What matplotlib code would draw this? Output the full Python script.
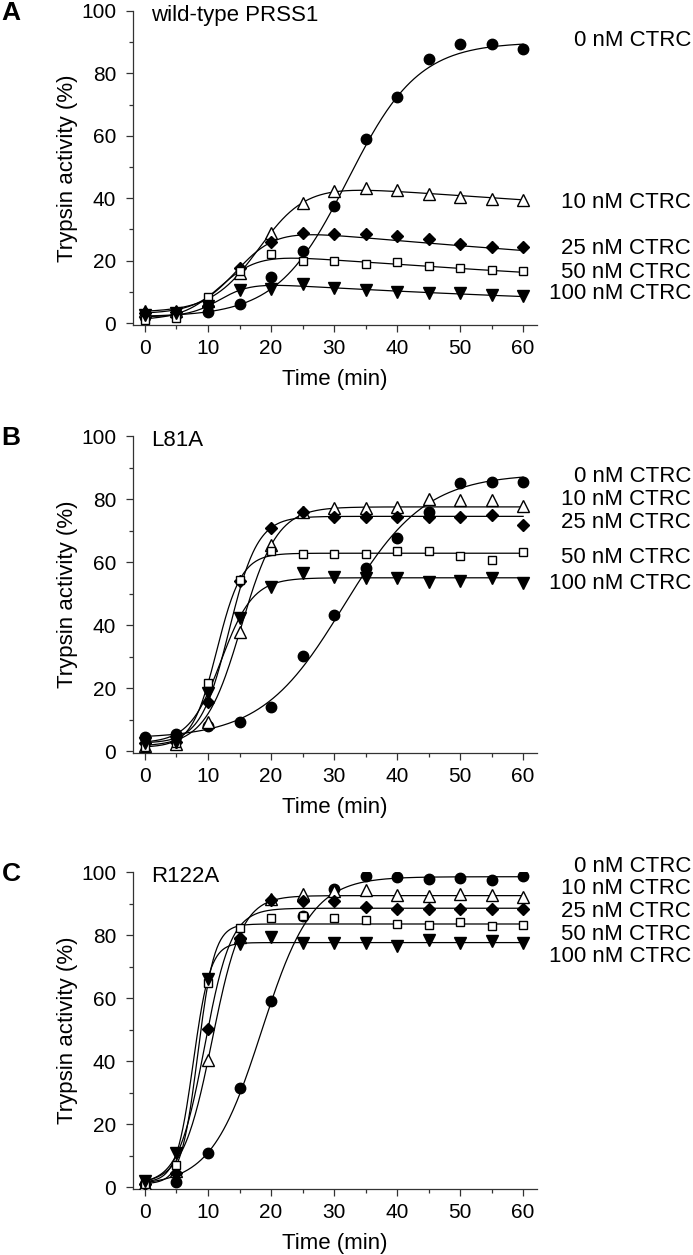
#!/usr/bin/env python3
"""
CTRC-dependent trypsin activation time courses, three PRSS1 variants
(wild-type, L81A, R122A), stacked vertically. Points = measured activity,
lines = fitted curves (logistic rise with optional slow decay).
"""

import matplotlib as mpl
import matplotlib.pyplot as plt
import numpy as np
from matplotlib.ticker import MultipleLocator

mpl.rcParams.update({
    "font.family": ["Liberation Sans", "DejaVu Sans"],
    "font.size": 16,
    "axes.linewidth": 0.9,
    "axes.edgecolor": "#333333",
    "xtick.color": "#333333",
    "ytick.color": "#333333",
    "xtick.labelcolor": "black",
    "ytick.labelcolor": "black",
})

# ---- data ----
TIME = [0, 5, 10, 15, 20, 25, 30, 35, 40, 45, 50, 55, 60]
CONC_LABELS = ["0 nM CTRC", "10 nM CTRC", "25 nM CTRC", "50 nM CTRC",
               "100 nM CTRC"]
PANEL_NAMES = ["wild-type PRSS1", "L81A", "R122A"]
PANEL_LETTERS = ["A", "B", "C"]

# wild-type PRSS1
wt_0nM   = [2.0, 2.5, 3.5, 6.0, 14.8, 23.2, 37.5, 59.0, 72.3, 84.5, 89.5, 89.3, 87.8]
wt_10nM  = [3.8, 4.0, 7.0, 15.9, 28.8, 38.6, 42.3, 43.4, 42.8, 41.4, 40.4, 39.9, 39.6]
wt_25nM  = [3.2, 3.7, 5.5, 17.7, 25.9, 28.8, 28.5, 28.6, 27.8, 27.0, 25.4, 24.3, 24.3]
wt_50nM  = [1.1, 1.7, 8.4, 16.6, 22.1, 19.8, 19.8, 19.0, 19.5, 18.3, 17.8, 17.1, 16.7]
wt_100nM = [2.5, 3.2, 5.5, 10.5, 10.8, 12.6, 11.1, 10.5, 10.0, 9.6, 9.6, 9.0, 8.8]

# L81A
l81_0nM   = [4.5, 5.4, 7.9, 9.3, 13.9, 30.3, 43.2, 58.0, 67.7, 75.8, 85.2, 85.5, 85.5]
l81_10nM  = [1.5, 2.2, 9.3, 37.7, 65.4, 76.0, 77.0, 77.0, 77.4, 80.0, 79.7, 79.7, 77.8]
l81_25nM  = [2.5, 3.0, 15.7, 54.0, 70.9, 75.8, 74.4, 74.4, 74.4, 74.4, 74.4, 74.9, 71.7]
l81_50nM  = [1.2, 2.5, 21.5, 54.3, 63.6, 62.7, 62.5, 62.5, 63.6, 63.6, 61.9, 60.8, 63.3]
l81_100nM = [2.5, 3.0, 18.5, 42.4, 52.2, 56.6, 55.3, 55.0, 55.0, 53.8, 54.0, 54.8, 53.4]

# R122A
r122_0nM   = [1.0, 1.7, 10.7, 31.6, 59.0, 86.0, 94.6, 98.8, 98.3, 97.8, 98.2, 97.5, 98.8]
r122_10nM  = [1.0, 5.0, 40.3, 79.5, 91.5, 93.0, 94.0, 94.3, 92.7, 92.4, 93.0, 92.7, 92.0]
r122_25nM  = [1.0, 4.5, 50.2, 79.0, 91.1, 90.8, 90.8, 88.8, 88.2, 88.2, 88.2, 88.2, 88.2]
r122_50nM  = [1.0, 7.0, 64.7, 82.1, 85.3, 86.1, 85.3, 84.8, 83.5, 83.2, 84.0, 82.9, 83.2]
r122_100nM = [2.0, 10.7, 66.2, 77.0, 79.5, 77.6, 77.6, 77.6, 76.5, 78.3, 77.6, 78.0, 77.6]

# fitted-curve parameters per series: (baseline, amplitude, t50, slope, decay)
wt_fits = [(2.0, 88.0, 32.2, 5.6, 0.0),
           (3.5, 45.0, 18.3, 3.76, 0.00372),
           (3.0, 31.5, 14.73, 3.15, 0.00735),
           (1.0, 24.3, 12.15, 3.01, 0.00773),
           (2.0, 13.3, 12.1, 2.44, 0.0119)]
l81_fits = [(4.0, 84.0, 31.5, 6.5, 0.0),
            (1.5, 76.0, 15.27, 2.85, 0.0),
            (2.5, 72.0, 13.37, 2.26, 0.0),
            (1.2, 61.6, 11.4, 1.97, 0.0),
            (2.5, 52.5, 12.09, 2.53, 0.0)]
r122_fits = [(0.5, 98.0, 18.5, 4.0, 0.0),
             (1.0, 91.5, 10.67, 2.35, 0.0),
             (1.0, 87.5, 9.47, 2.1, 0.0),
             (1.0, 82.5, 8.38, 1.33, 0.0),
             (1.5, 76.1, 7.66, 1.34, 0.0)]

# y position (data units) of the right-hand series labels
wt_label_y = [90.4, 38.7, 24.0, 16.3, 9.6]
l81_label_y = [87.1, 79.7, 72.5, 61.6, 53.3]
r122_label_y = [101.9, 94.8, 87.6, 80.2, 73.1]

PANELS = [
    ([wt_0nM, wt_10nM, wt_25nM, wt_50nM, wt_100nM], wt_fits, wt_label_y),
    ([l81_0nM, l81_10nM, l81_25nM, l81_50nM, l81_100nM], l81_fits, l81_label_y),
    ([r122_0nM, r122_10nM, r122_25nM, r122_50nM, r122_100nM], r122_fits, r122_label_y),
]

# marker style per concentration
STYLES = [
    dict(marker="o", ms=7.5, mfc="black", mec="black"),
    dict(marker="^", ms=8.0, mfc="white", mec="black", mew=1.0),
    dict(marker="D", ms=6.3, mfc="black", mec="black"),
    dict(marker="s", ms=6.3, mfc="white", mec="black", mew=1.0),
    dict(marker="v", ms=8.0, mfc="black", mec="black"),
]


def fit_curve(t, b, amp, t50, s, k):
    return b + amp * np.exp(-k * t) / (1.0 + np.exp(-(t - t50) / s))


def main():
    W, H = 693, 1255
    fig = plt.figure(figsize=(W / 100, H / 100), dpi=100)

    left, width = 133 / W, 404 / W
    bottoms = [325, 753, 1189]  # pixel row of x-axis
    tops = [11, 436, 872]       # pixel row of y=100

    t_fine = np.linspace(0, 60, 400)
    for p, (series, fits, label_y) in enumerate(PANELS):
        b_frac = 1 - bottoms[p] / H
        h_frac = (bottoms[p] - tops[p]) / H
        ax = fig.add_axes([left, b_frac, width, h_frac])

        for prm in fits:
            ax.plot(t_fine, fit_curve(t_fine, *prm), color="black",
                    linewidth=0.9, zorder=2)
        for i, (vals, st) in enumerate(zip(series, STYLES)):
            ax.plot(TIME, vals, linestyle="none", zorder=3 + i, **st)

        ax.set_xlim(-1.9, 62.2)
        ax.set_ylim(-0.6, 100)
        ax.xaxis.set_major_locator(MultipleLocator(10))
        ax.xaxis.set_minor_locator(MultipleLocator(5))
        ax.yaxis.set_major_locator(MultipleLocator(20))
        ax.yaxis.set_minor_locator(MultipleLocator(10))
        ax.tick_params(which="major", direction="out", length=5, width=0.9,
                       labelsize=15)
        ax.tick_params(axis="x", which="major", pad=5)
        ax.tick_params(axis="y", which="major", pad=7)
        ax.tick_params(which="minor", direction="out", length=3, width=0.9)
        for side in ("top", "right"):
            ax.spines[side].set_visible(False)

        ax.set_xlabel("Time (min)", fontsize=16, labelpad=8)
        ax.set_ylabel("Trypsin activity (%)", fontsize=16)
        ax.yaxis.set_label_coords(-0.135, 0.5)

        ax.text(0.045, 0.985, PANEL_NAMES[p], transform=ax.transAxes,
                ha="left", va="center", fontsize=16)
        fig.text(11 / W, 1 - (13 + (tops[p] - 11)) / H, PANEL_LETTERS[p],
                 ha="center", va="center", fontsize=19, fontweight="bold")

        trans = mpl.transforms.blended_transform_factory(fig.transFigure,
                                                          ax.transData)
        for lab, y in zip(CONC_LABELS, label_y):
            ax.text(0.997, y, lab, transform=trans, ha="right",
                    va="center", fontsize=16, clip_on=False)

    fig.savefig("out.png", dpi=100)
    plt.close(fig)


if __name__ == "__main__":
    main()
